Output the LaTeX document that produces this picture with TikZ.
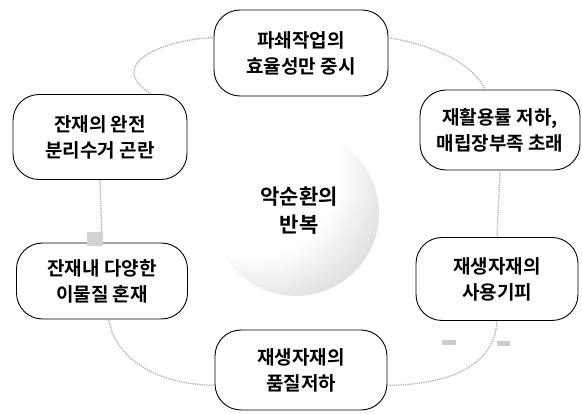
\documentclass[tikz,border=0pt]{standalone}
\usepackage{fontspec}
\newfontfamily\kr{Noto Sans CJK KR}[BoldFont={Noto Sans CJK KR Bold}]
\usetikzlibrary{arrows.meta}
\pgfdeclareradialshading{sphereshade}{\pgfpoint{-20bp}{20bp}}{color(0bp)=(white); color(26bp)=(white); color(40bp)=(gray!28); color(55bp)=(gray!52); color(75bp)=(gray!66)}
\begin{document}
\begin{tikzpicture}[x=1pt,y=-1pt,
  box/.style={draw=black, line width=0.9pt, rounded corners=26pt, align=center, inner sep=0pt,
    font=\kr\bfseries\fontsize{19}{26}\selectfont},
  conn/.style={draw=gray!60, line width=1.3pt, densely dotted}
]
\useasboundingbox (0,0) rectangle (582,414);
% centre sphere
\shade[shading=sphereshade] (296,213) circle (83);
\node[align=center, font=\kr\bfseries\fontsize{21}{28}\selectfont] (C) at (299,211) {악순환의\\반복};
% boxes
\node[box, minimum width=174pt, minimum height=86pt] (T) at (301,53) {파쇄작업의\\효율성만 중시};
\node[box, minimum width=160pt, minimum height=80pt] (RT) at (500,130) {재활용률 저하,\\매립장부족 초래};
\node[box, minimum width=162pt, minimum height=83pt] (RB) at (497,279) {재생자재의\\사용기피};
\node[box, minimum width=172pt, minimum height=80pt] (B) at (301,370) {재생자재의\\품질저하};
\node[box, minimum width=171pt, minimum height=76pt] (LB) at (102,281) {잔재내 다양한\\이물질 혼재};
\node[box, minimum width=174pt, minimum height=85pt] (LT) at (100,137) {잔재의 완전\\분리수거 곤란};
% connectors
\draw[conn] (T.170) .. controls (160,40) and (105,65) .. (LT.40);
\draw[conn] (T.10) .. controls (430,45) and (470,60) .. (RT.110);
\draw[conn] (RT.south) -- (RB.north);
\draw[conn] (RB.south) .. controls (495,365) and (450,385) .. (B.-10);
\draw[conn] (B.190) .. controls (160,385) and (115,360) .. (LB.-80);
\draw[conn] (LT.south) -- (LB.north);
\fill[gray!35] (87,232) rectangle (103,246);
\fill[gray!40] (442,340) rectangle (456,345);
\fill[gray!40] (497,341) rectangle (510,346);
\end{tikzpicture}
\end{document}
